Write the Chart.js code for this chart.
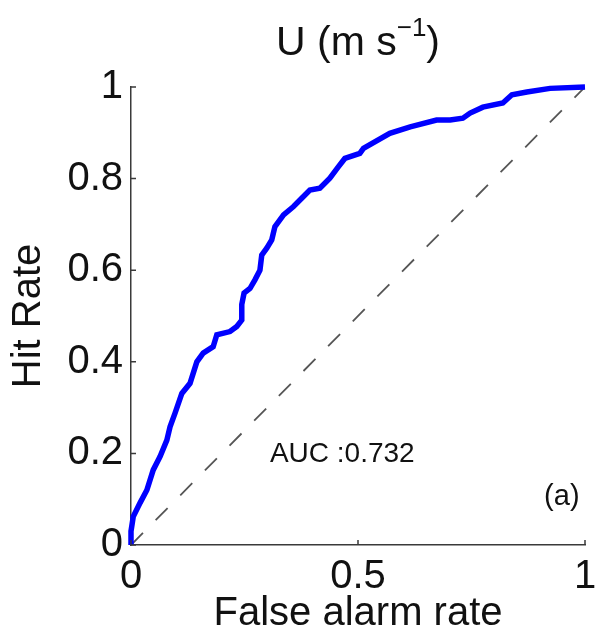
<!DOCTYPE html>
<html>
<head>
<meta charset="utf-8">
<script src="https://cdn.jsdelivr.net/npm/chart.js@4.4.0/dist/chart.umd.min.js"></script>
<style>
  html, body { margin: 0; padding: 0; background: #fff; }
</style>
</head>
<body>
<canvas id="chart" width="598" height="638"></canvas>
<script>
// ROC curve (false alarm rate, hit rate)
const rocX = [0, 0, 0.005, 0.02, 0.035, 0.049, 0.064, 0.079, 0.086, 0.097, 0.112, 0.130, 0.145, 0.159,
  0.181, 0.189, 0.218, 0.233, 0.244, 0.244, 0.249, 0.262, 0.273, 0.284, 0.288, 0.299, 0.310, 0.317,
  0.336, 0.358, 0.376, 0.394, 0.416, 0.438, 0.457, 0.471, 0.504, 0.512, 0.570, 0.615, 0.673, 0.703,
  0.731, 0.747, 0.775, 0.819, 0.839, 0.872, 0.923, 1.0];
const rocY = [0, 0.03, 0.062, 0.092, 0.12, 0.164, 0.193, 0.229, 0.258, 0.288, 0.331, 0.353, 0.40, 0.419,
  0.433, 0.459, 0.466, 0.477, 0.491, 0.525, 0.550, 0.560, 0.579, 0.600, 0.633, 0.648, 0.666, 0.695,
  0.721, 0.739, 0.757, 0.775, 0.779, 0.801, 0.826, 0.844, 0.855, 0.866, 0.899, 0.913, 0.928, 0.928,
  0.932, 0.943, 0.956, 0.965, 0.983, 0.989, 0.997, 1.0];

// no-skill diagonal
const diagX = [0, 1];
const diagY = [0, 1];

const xTicks = [0, 0.5, 1];
const yTicks = [0, 0.2, 0.4, 0.6, 0.8, 1];

const titleMain = "U (m s";
const titleSup = "\u22121";
const titleEnd = ")";
const xLabel = "False alarm rate";
const yLabel = "Hit Rate";
const aucText = "AUC :0.732";
const aucPos = [0.306, 0.197];
const panelText = "(a)";
const panelPos = [0.949, 0.105];

const FONT = "'Liberation Sans', Arial, Helvetica, sans-serif";

function toPoints(xs, ys) {
  return xs.map((x, i) => ({ x: x, y: ys[i] }));
}

// tick marks inside the axes + title and annotations
const extras = {
  id: 'extras',
  afterDraw(chart) {
    const { ctx, chartArea: a, scales: { x, y } } = chart;
    ctx.save();
    ctx.strokeStyle = '#3a3a3a';
    ctx.lineWidth = 1.5;
    ctx.beginPath();
    xTicks.forEach(v => {
      const px = x.getPixelForValue(v);
      ctx.moveTo(px, a.bottom);
      ctx.lineTo(px, a.bottom - 5);
    });
    yTicks.forEach(v => {
      const py = y.getPixelForValue(v);
      ctx.moveTo(a.left, py);
      ctx.lineTo(a.left + 5, py);
    });
    ctx.stroke();

    ctx.fillStyle = '#111';
    ctx.textBaseline = 'alphabetic';

    // title with superscript
    const big = '41px ' + FONT, small = '26px ' + FONT;
    ctx.font = big;
    const w1 = ctx.measureText(titleMain).width;
    const w3 = ctx.measureText(titleEnd).width;
    ctx.font = small;
    const w2 = ctx.measureText(titleSup).width;
    let tx = (a.left + a.right) / 2 - (w1 + w2 + w3) / 2;
    ctx.textAlign = 'left';
    ctx.font = big;
    ctx.fillText(titleMain, tx, 55);
    ctx.font = small;
    ctx.fillText(titleSup, tx + w1, 36);
    ctx.font = big;
    ctx.fillText(titleEnd, tx + w1 + w2, 55);

    // annotations
    ctx.textBaseline = 'middle';
    ctx.font = '28px ' + FONT;
    ctx.textAlign = 'left';
    ctx.fillText(aucText, x.getPixelForValue(aucPos[0]), y.getPixelForValue(aucPos[1]));
    ctx.font = '29px ' + FONT;
    ctx.textAlign = 'center';
    ctx.fillText(panelText, x.getPixelForValue(panelPos[0]), y.getPixelForValue(panelPos[1]));
    ctx.restore();
  }
};

new Chart(document.getElementById('chart'), {
  type: 'scatter',
  data: {
    datasets: [
      {
        data: toPoints(rocX, rocY),
        showLine: true,
        borderColor: '#0000ff',
        borderWidth: 5.5,
        pointRadius: 0,
        tension: 0,
        clip: false,
        order: 0
      },
      {
        data: toPoints(diagX, diagY),
        showLine: true,
        borderColor: '#555',
        borderWidth: 1.8,
        borderDash: [17, 18],
        pointRadius: 0,
        order: 1
      }
    ]
  },
  options: {
    responsive: false,
    animation: false,
    events: [],
    layout: { padding: { top: 87, right: 13, left: 0, bottom: 0 } },
    plugins: {
      legend: { display: false },
      tooltip: { enabled: false },
      title: { display: false }
    },
    scales: {
      x: {
        type: 'linear',
        min: 0,
        max: 1,
        afterBuildTicks: s => { s.ticks = xTicks.map(v => ({ value: v })); },
        afterFit: s => { s.height = 93; s.paddingLeft = 0; s.paddingRight = 0; },
        grid: { display: false, drawTicks: false },
        border: { display: true, color: '#3a3a3a', width: 1.5 },
        ticks: {
          color: '#111',
          padding: 8,
          maxRotation: 0,
          font: { family: FONT, size: 40 },
          callback: v => String(v)
        },
        title: {
          display: true,
          text: xLabel,
          color: '#111',
          padding: { top: 0, bottom: 0 },
          font: { family: FONT, size: 40 }
        }
      },
      y: {
        type: 'linear',
        min: 0,
        max: 1,
        afterBuildTicks: s => { s.ticks = yTicks.map(v => ({ value: v })); },
        afterFit: s => { s.width = 131; s.paddingTop = 0; s.paddingBottom = 0; },
        grid: { display: false, drawTicks: false },
        border: { display: true, color: '#3a3a3a', width: 1.5 },
        ticks: {
          color: '#111',
          padding: 8,
          font: { family: FONT, size: 40 },
          callback: v => String(v)
        },
        title: {
          display: true,
          text: yLabel,
          color: '#111',
          padding: { top: 5, bottom: 0 },
          font: { family: FONT, size: 40 }
        }
      }
    }
  },
  plugins: [extras]
});
</script>
</body>
</html>
